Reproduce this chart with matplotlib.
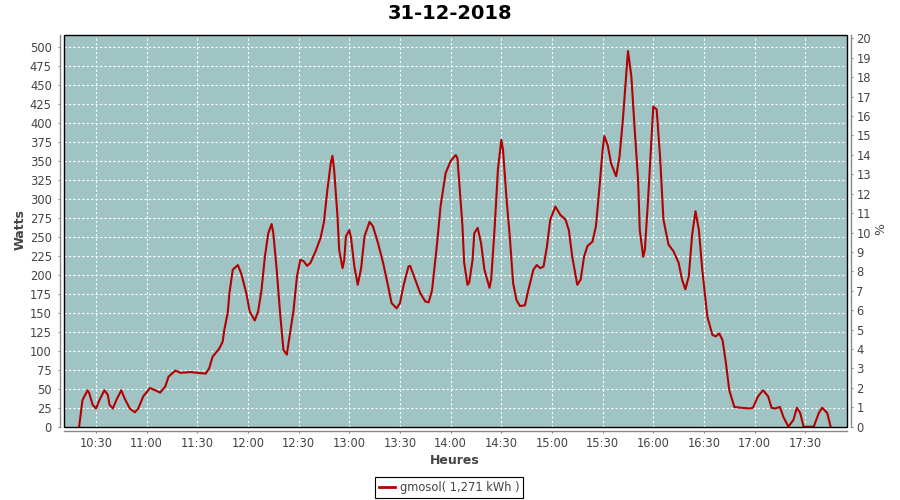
import matplotlib
matplotlib.use("Agg")
import matplotlib.pyplot as plt
import matplotlib.dates as mdates
from matplotlib.patches import Rectangle
from matplotlib.lines import Line2D
import pandas as pd

day = "2018-12-31"
title = "31-12-2018"
series_name = "gmosol( 1,271 kWh )"

times = ["10:20","10:21","10:22","10:25","10:26","10:28","10:30","10:32","10:35","10:37","10:38","10:40","10:42","10:45","10:47","10:50","10:53","10:55","10:58","11:02","11:05","11:08","11:11","11:13","11:17","11:20","11:26","11:30","11:35","11:37","11:39","11:43","11:45","11:46","11:48","11:49","11:51","11:54","11:56","11:59","12:01","12:04","12:06","12:08","12:10","12:12","12:14","12:15","12:17","12:19","12:21","12:23","12:24","12:27","12:29","12:31","12:33","12:35","12:37","12:40","12:43","12:45","12:47","12:49","12:50","12:51","12:53","12:54","12:56","12:57","12:58","13:00","13:01","13:03","13:05","13:07","13:09","13:12","13:14","13:17","13:20","13:23","13:25","13:28","13:30","13:32","13:35","13:36","13:39","13:42","13:45","13:47","13:49","13:52","13:54","13:57","14:00","14:03","14:04","14:05","14:07","14:08","14:10","14:11","14:13","14:14","14:16","14:18","14:20","14:23","14:24","14:26","14:28","14:30","14:31","14:33","14:35","14:37","14:39","14:41","14:44","14:46","14:49","14:51","14:53","14:55","14:57","14:59","15:02","15:05","15:08","15:10","15:12","15:15","15:17","15:19","15:21","15:24","15:26","15:28","15:30","15:31","15:33","15:35","15:38","15:40","15:42","15:44","15:45","15:47","15:49","15:51","15:52","15:54","15:55","15:57","15:59","16:00","16:02","16:04","16:06","16:09","16:12","16:15","16:17","16:19","16:21","16:23","16:25","16:27","16:29","16:32","16:35","16:37","16:39","16:41","16:43","16:45","16:48","16:52","16:57","16:59","17:02","17:05","17:08","17:10","17:12","17:15","17:17","17:20","17:23","17:25","17:27","17:29","17:35","17:38","17:40","17:43","17:45"]

watts = [0,18,35,48,44,29,24,35,48,42,29,24,35,48,37,24,19,24,40,51,48,45,53,66,74,71,72,71,70,77,92,103,112,128,150,176,207,213,202,176,152,140,152,180,224,255,267,255,207,150,101,95,110,154,198,220,218,212,216,231,249,270,312,347,357,339,277,233,209,220,251,259,249,211,187,209,251,270,264,242,216,185,163,156,163,185,211,212,194,176,165,164,180,242,290,334,350,358,354,325,264,216,187,190,220,255,262,242,207,183,194,260,339,378,365,303,251,189,167,159,160,180,207,213,209,211,237,273,290,279,273,259,224,187,194,224,238,244,264,312,365,383,371,347,330,356,405,466,495,462,391,325,259,224,233,303,382,422,418,356,273,240,231,216,194,181,198,253,284,259,207,145,121,119,123,114,84,48,26,25,24,25,40,48,40,25,24,26,13,0,9,25,18,0,0,18,25,18,0]

x_tick_labels = ["10:30","11:00","11:30","12:00","12:30","13:00","13:30","14:00","14:30","15:00","15:30","16:00","16:30","17:00","17:30"]
x_range = ["10:11:03", "17:54:42"]
left_ticks = list(range(0, 501, 25))
right_ticks = list(range(0, 21))
left_max = 516.2
right_max = 20.17

bg = "#A0C4C4"
line_color = "#B40000"
txt = "#444444"
axc = "#888888"

t = pd.to_datetime([f"{day} {s}" for s in times])
xt = pd.to_datetime([f"{day} {s}" for s in x_tick_labels])

fig = plt.figure(figsize=(9, 5), dpi=100)
ax = fig.add_axes([64/900, 1-426.7/500, 783/900, 391.7/500])
ax.set_facecolor(bg)
ln, = ax.plot(t, watts, color=line_color, lw=1.5, zorder=3)
ax.set_xlim(pd.Timestamp(f"{day} {x_range[0]}"), pd.Timestamp(f"{day} {x_range[1]}"))
ax.set_ylim(0, left_max)
ax.set_xticks(xt)
ax.set_xticklabels(x_tick_labels)
ax.set_yticks(left_ticks)
ax.grid(True, color="white", linestyle=(0, (2, 2)), linewidth=0.8, zorder=1)
ax.set_axisbelow(True)
for s in ["top", "right"]:
    ax.spines[s].set_visible(False)
for s in ["left", "bottom"]:
    ax.spines[s].set_position(("outward", 2.9))
    ax.spines[s].set_color(axc)
    ax.spines[s].set_linewidth(1.0)
ax.tick_params(axis="y", length=1.5, color=axc, labelcolor=txt, labelsize=8.3, pad=4.3)
ax.tick_params(axis="x", length=1.5, color=axc, labelcolor=txt, labelsize=8.3, pad=3.0)
ax.add_patch(Rectangle((0, 0), 1, 1, transform=ax.transAxes, fill=False,
                       edgecolor="black", lw=1.0, zorder=6, clip_on=False))

ax2 = ax.twinx()
ax2.set_ylim(0, right_max)
ax2.set_yticks(right_ticks)
ax2.patch.set_visible(False)
for s in ["top", "left", "bottom"]:
    ax2.spines[s].set_visible(False)
ax2.spines["right"].set_position(("outward", 2.9))
ax2.spines["right"].set_color(axc)
ax2.spines["right"].set_linewidth(1.0)
ax2.tick_params(axis="y", length=1.5, color=axc, labelcolor=txt, labelsize=8.3, pad=2.4)

fig.text(450/900, 1-13.7/500, title, fontsize=14, fontweight="bold", ha="center", va="center", color="black")
fig.text(20.5/900, 1-230/500, "Watts", fontsize=9, fontweight="bold", rotation=90, ha="center", va="center", color=txt)
fig.text(455/900, 1-460.5/500, "Heures", fontsize=9, fontweight="bold", ha="center", va="center", color=txt)
fig.text(881/900, 1-229/500, "%", fontsize=9, rotation=90, ha="center", va="center", color=txt)

leg = fig.legend(handles=[Line2D([], [], color=line_color, lw=2)], labels=[series_name],
                 loc="center", bbox_to_anchor=(449/900, 1-487.5/500), fontsize=8.3,
                 frameon=True, fancybox=False, edgecolor="black", framealpha=1,
                 handlelength=1.4, handletextpad=0.4, borderpad=0.35, borderaxespad=0)
leg.get_frame().set_linewidth(0.8)
for tx in leg.get_texts():
    tx.set_color(txt)

fig.savefig("out.png", dpi=100)
